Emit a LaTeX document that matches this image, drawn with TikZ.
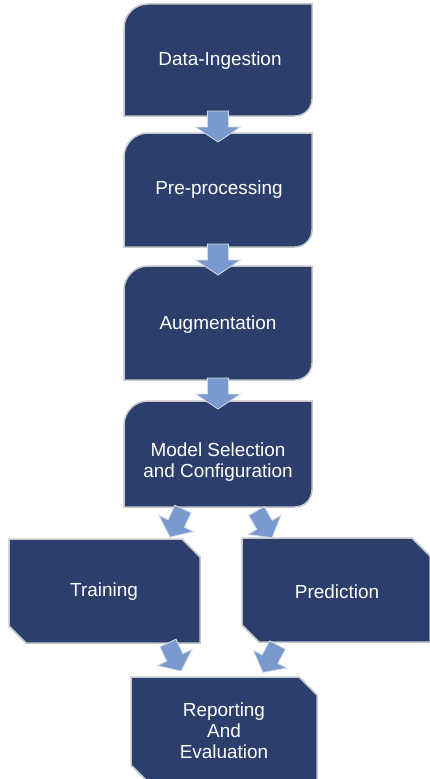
\documentclass[tikz,border=0pt]{standalone}
\usepackage{fontspec}
\setmainfont{Liberation Sans}
\definecolor{navy}{RGB}{44,63,108}
\definecolor{bordergray}{RGB}{196,198,202}
\definecolor{arrowblue}{RGB}{122,154,207}
\definecolor{arrowedge}{RGB}{215,220,228}
\newcommand\roundbox[4]{%
  \path[boxfill] (#1,{#2+24}) .. controls (#1,{#2+10.8}) and ({#1+10.8},#2) .. ({#1+24},#2)
    -- (#3,#2) -- (#3,{#4-17}) .. controls (#3,{#4-7.6}) and ({#3-7.6},#4) .. ({#3-17},#4)
    -- (#1,#4) -- cycle;}
\newcommand\snipbox[4]{%
  \path[boxfill] (#1,#2) -- ({#3-18},#2) -- (#3,{#2+18}) -- (#3,#4) -- ({#1+17},#4)
    -- (#1,{#4-17}) -- cycle;}
\newcommand\blockarrow[4]{%
  \begin{scope}[shift={(#1,#2)}, rotate=#3, xscale=#4]
    \path[blk] (-10.5,0) -- (10.5,0) -- (10.5,16) -- (22.5,16) -- (0,31)
      -- (-22.5,16) -- (-10.5,16) -- cycle;
  \end{scope}}
\begin{document}
\begin{tikzpicture}[x=1bp,y=-1bp,
  boxfill/.style={fill=navy, draw=bordergray, line width=1.5bp},
  blk/.style={fill=arrowblue, draw=arrowedge, line width=0.8bp, line join=miter},
  lbl/.style={text=white, font=\fontsize{19}{21}\selectfont, align=center, inner sep=0pt}]
\useasboundingbox (0,0) rectangle (429,779);
% boxes
\roundbox{124}{4}{312}{116}
\roundbox{124}{133}{312}{247}
\roundbox{124}{266}{312}{380}
\roundbox{124}{401}{312}{507}
\snipbox{9}{539}{200}{643}
\snipbox{242}{538}{430}{642}
\snipbox{131}{677}{317}{782}
% labels
\node[lbl] (ingest) at (220,61) {Data-Ingestion};
\node[lbl] (prep) at (219,190) {Pre-processing};
\node[lbl] (aug) at (218,325) {Augmentation};
\node[lbl] (model) at (218,462) {Model Selection\\and Configuration};
\node[lbl] (train) at (104,592) {Training};
\node[lbl] (pred) at (337,592) {Prediction};
\node[lbl] (report) at (224,731) {Reporting\\And\\Evaluation};
% arrows
\blockarrow{218}{111}{0}{1}
\blockarrow{218}{244}{0}{1}
\blockarrow{218}{378}{0}{1}
\blockarrow{183}{509}{-25}{0.85}
\blockarrow{256.5}{511}{30}{0.85}
\blockarrow{168}{643}{25}{0.85}
\blockarrow{277.5}{645}{-28}{0.85}
\end{tikzpicture}
\end{document}
